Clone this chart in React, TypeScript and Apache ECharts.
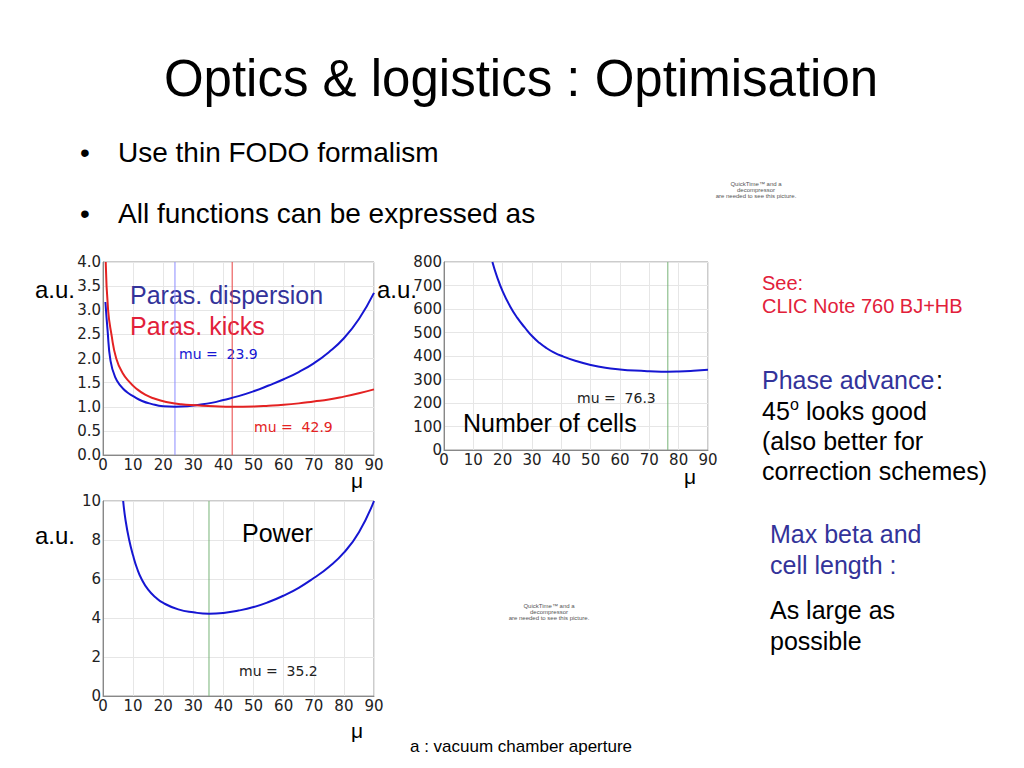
import React, { useEffect, useRef } from "react";
import * as echarts from "echarts";

// ---- Chart 1: parasitic dispersion / parasitic kicks (a.u.) vs mu ----
const DISP_MU = [0.8, 1.5, 2.5, 4, 6, 8, 10, 13, 16, 20, 23.9, 28, 32, 36, 40, 45, 50, 55, 60, 65, 70, 75, 80, 85, 90];
const DISP_VAL = [3.17, 2.6, 1.95, 1.62, 1.42, 1.3, 1.22, 1.12, 1.06, 1.01, 1.0, 1.01, 1.04, 1.08, 1.14, 1.22, 1.32, 1.44, 1.57, 1.72, 1.9, 2.13, 2.42, 2.82, 3.36];
const KICK_MU = [0.9, 1.7, 2.8, 4.4, 6.5, 9, 11, 14, 17, 21, 26, 31, 37, 42.9, 50, 55, 60, 65, 70, 75, 80, 85, 90];
const KICK_VAL = [4.0, 3.0, 2.5, 2.0, 1.7, 1.5, 1.38, 1.25, 1.17, 1.1, 1.05, 1.03, 1.01, 1.0, 1.005, 1.02, 1.04, 1.07, 1.11, 1.15, 1.21, 1.28, 1.36];
const DISP_OPT = 23.9;
const KICK_OPT = 42.9;

// ---- Chart 2: number of cells vs mu ----
const CELLS_MU = [16.5, 18, 20, 22.5, 25, 27.5, 30, 32.5, 35, 37.5, 40, 45, 50, 55, 60, 65, 70, 76.3, 80, 85, 90];
const CELLS_VAL = [800, 740, 675, 612, 562, 522, 485, 456, 433, 415, 401, 379, 362, 350, 343, 338, 335, 333, 334, 337, 341];
const CELLS_OPT = 76.3;

// ---- Chart 3: power vs mu ----
const POWER_MU = [6.7, 7.5, 8.7, 10, 11.3, 12.8, 15, 17.5, 20, 25, 30, 35.2, 40, 45, 50, 55, 60, 65, 70, 75, 80, 85, 90];
const POWER_VAL = [10, 9.0, 8.0, 7.2, 6.55, 6.0, 5.45, 5.05, 4.77, 4.44, 4.29, 4.22, 4.26, 4.38, 4.56, 4.82, 5.15, 5.55, 6.05, 6.62, 7.35, 8.4, 10.0];
const POWER_OPT = 35.2;

const X_TICKS = { min: 0, max: 90, interval: 10 };
const Y_MAX = [4, 800, 10];

const zip = (xs: number[], ys: number[]) => xs.map((x, i) => [x, ys[i]]);

const ARIAL = "'Liberation Sans', Arial, Helvetica, sans-serif";

function txt(x: number, y: number, text: string, size: number, fill = "#000", align = "left", family = ARIAL) {
  return {
    type: "text",
    x,
    y,
    silent: true,
    z: 1,
    style: {
      legacy: false,
      text,
      fill,
      font: `${size}px ${family}`,
      align,
      verticalAlign: "middle",
    },
  };
}

export default function App() {
  const ref = useRef<HTMLDivElement>(null);

  useEffect(() => {
    document.body.style.margin = "0";
    if (!ref.current) return;
    const chart = echarts.init(ref.current, undefined, { renderer: "svg" });

    const axisCommon = {
      axisLine: { show: true, lineStyle: { color: "#888", width: 1 } },
      axisTick: { show: false },
      splitLine: { show: true, lineStyle: { color: "#e6e6e6", width: 1 } },
      axisLabel: { fontFamily: "DejaVu Sans", fontSize: 15, color: "#222", margin: 2 },
    };

    const lineSeries = (idx: number, data: number[][], color: string) => ({
      type: "line",
      xAxisIndex: idx,
      yAxisIndex: idx,
      data,
      showSymbol: false,
      symbol: "none",
      smooth: 0.5,
      color,
      lineStyle: { color, width: 2 },
      clip: true,
      z: 3,
    });

    const vSeries = (idx: number, v: number, color: string) => ({
      type: "line",
      xAxisIndex: idx,
      yAxisIndex: idx,
      data: [[v, 0], [v, Y_MAX[idx]]],
      showSymbol: false,
      symbol: "none",
      color,
      lineStyle: { color, width: 1 },
      z: 2,
    });

    const blue = "#1616d2";
    const red = "#e42222";
    const textBlue = "#33339a";
    const textRed = "#e2203a";
    const qt = "#555";

    const graphic: any[] = [
      txt(521, 78, "Optics & logistics : Optimisation", 51, "#000", "center"),
      txt(80, 152, "•", 28),
      txt(118, 152, "Use thin FODO formalism", 28),
      txt(80, 213, "•", 28),
      txt(118, 213, "All functions can be expressed as", 28),
      // QuickTime placeholders
      txt(756, 184, "QuickTime™ and a", 6, qt, "center"),
      txt(756, 190, "decompressor", 6, qt, "center"),
      txt(756, 196, "are needed to see this picture.", 6, qt, "center"),
      txt(549, 606, "QuickTime™ and a", 6, qt, "center"),
      txt(549, 612, "decompressor", 6, qt, "center"),
      txt(549, 618, "are needed to see this picture.", 6, qt, "center"),
      // axis unit labels
      txt(35, 289, "a.u.", 24),
      txt(377, 289, "a.u.", 24),
      txt(35, 535, "a.u.", 24),
      txt(357, 480, "μ", 21, "#000", "center"),
      txt(690, 476, "μ", 21, "#000", "center"),
      txt(357, 730, "μ", 21, "#000", "center"),
      // in-chart labels
      txt(130, 295, "Paras. dispersion", 25, textBlue),
      txt(130, 326, "Paras. kicks", 25, textRed),
      txt(179, 354, "mu =  23.9", 14, blue, "left", "DejaVu Sans"),
      txt(254, 427, "mu =  42.9", 14, red, "left", "DejaVu Sans"),
      txt(463, 423, "Number of cells", 25),
      txt(577, 398, "mu =  76.3", 14, "#222", "left", "DejaVu Sans"),
      txt(242, 533, "Power", 25),
      txt(239, 671, "mu =  35.2", 14, "#222", "left", "DejaVu Sans"),
      // right column
      txt(762, 283, "See:", 20, textRed),
      txt(762, 306, "CLIC Note 760 BJ+HB", 20, textRed),
      txt(762, 380, "Phase advance", 25, textBlue),
      txt(936, 380, ":", 25),
      txt(762, 411, "45", 25),
      txt(790, 404, "o", 16),
      txt(806, 411, "looks good", 25),
      txt(762, 441, "(also better for", 25),
      txt(762, 471, "correction schemes)", 25),
      txt(770, 534, "Max beta and", 25, textBlue),
      txt(770, 565, "cell length :", 25, textBlue),
      txt(770, 610, "As large as", 25),
      txt(770, 641, "possible", 25),
      txt(410, 746, "a : vacuum chamber aperture", 17),
    ];

    chart.setOption({
      animation: false,
      backgroundColor: "#fff",
      grid: [
        { left: 103, top: 262, width: 271, height: 193, show: true, borderColor: "#999", borderWidth: 1, backgroundColor: "transparent" },
        { left: 444, top: 262, width: 264, height: 188, show: true, borderColor: "#999", borderWidth: 1, backgroundColor: "transparent" },
        { left: 103, top: 501, width: 271, height: 195, show: true, borderColor: "#999", borderWidth: 1, backgroundColor: "transparent" },
      ],
      xAxis: [0, 1, 2].map((i) => ({
        type: "value",
        gridIndex: i,
        ...X_TICKS,
        ...axisCommon,
      })),
      yAxis: [
        { type: "value", gridIndex: 0, min: 0, max: Y_MAX[0], interval: 0.5, ...axisCommon, axisLabel: { ...axisCommon.axisLabel, formatter: (v: number) => v.toFixed(1) } },
        { type: "value", gridIndex: 1, min: 0, max: Y_MAX[1], interval: 100, ...axisCommon },
        { type: "value", gridIndex: 2, min: 0, max: Y_MAX[2], interval: 2, ...axisCommon },
      ],
      series: [
        vSeries(0, DISP_OPT, "#8c8cff"),
        vSeries(0, KICK_OPT, "#e84040"),
        vSeries(1, CELLS_OPT, "#78b478"),
        vSeries(2, POWER_OPT, "#78b478"),
        lineSeries(0, zip(DISP_MU, DISP_VAL), blue),
        lineSeries(0, zip(KICK_MU, KICK_VAL), red),
        lineSeries(1, zip(CELLS_MU, CELLS_VAL), blue),
        lineSeries(2, zip(POWER_MU, POWER_VAL), blue),
      ],
      graphic,
    });

    return () => chart.dispose();
  }, []);

  return <div ref={ref} style={{ width: 1024, height: 768, position: "absolute", left: 0, top: 0 }} />;
}
